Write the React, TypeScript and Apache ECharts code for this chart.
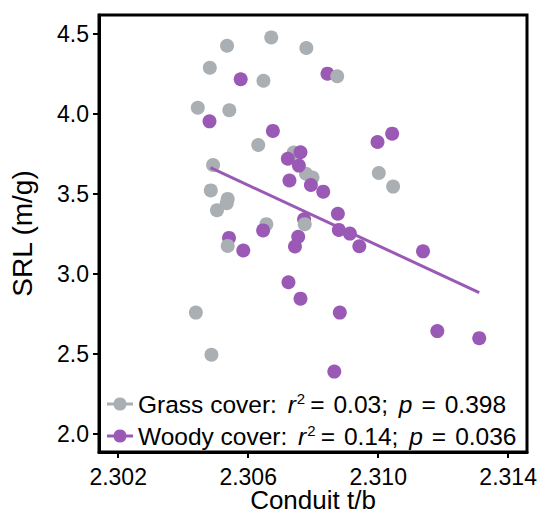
import React, { useEffect, useRef } from "react";
import * as echarts from "echarts";

// Grass cover points (Conduit t/b, SRL m/g)
const grassX = [
  2.30535, 2.30671, 2.30779, 2.30482, 2.30647, 2.30874, 2.30445, 2.30542,
  2.30631, 2.30492, 2.3074, 2.30778, 2.30798, 2.30485, 2.30537, 2.30534,
  2.30504, 2.30774, 2.30656, 2.30537, 2.31002, 2.31046, 2.30439, 2.30487,
];
const grassY = [
  4.427, 4.479, 4.413, 4.289, 4.208, 4.236, 4.039, 4.023,
  3.806, 3.681, 3.759, 3.626, 3.602, 3.522, 3.469, 3.442,
  3.398, 3.311, 3.311, 3.175, 3.631, 3.546, 2.758, 2.494,
];
// indices of grass points drawn above the woody points
const grassAbove = [5, 17, 19];

// Woody cover points
const woodyX = [
  2.30577, 2.30844, 2.30481, 2.30676, 2.30998, 2.31043, 2.30761, 2.30722,
  2.30756, 2.30727, 2.30793, 2.30831, 2.30876, 2.30879, 2.30913, 2.30942,
  2.31138, 2.30772, 2.30646, 2.30754, 2.30744, 2.30541, 2.30585, 2.30724,
  2.30761, 2.30882, 2.31182, 2.31311, 2.30865,
];
const woodyY = [
  4.217, 4.252, 3.954, 3.894, 3.825, 3.877, 3.761, 3.72,
  3.677, 3.584, 3.556, 3.514, 3.376, 3.275, 3.252, 3.173,
  3.141, 3.341, 3.272, 3.232, 3.171, 3.225, 3.146, 2.948,
  2.845, 2.758, 2.642, 2.598, 2.389,
];

// Woody cover regression line end points
const woodyFitX = [2.30484, 2.31311];
const woodyFitY = [3.664, 2.883];

const xTicks = [2.302, 2.306, 2.31, 2.314];
const yTicks = [2.0, 2.5, 3.0, 3.5, 4.0, 4.5];

const groupNames = ["Grass cover", "Woody cover"];
const groupR2 = ["0.03", "0.14"];
const groupP = ["0.398", "0.036"];

const GRAY = "#A9AFB3";
const PURPLE = "#9B59B6";
const FONT = "Liberation Sans, Arial, Helvetica, sans-serif";

const legendIcon =
  "path://M0 5L6.675 5A6.5 6.5 0 0 1 19.325 5L26 5L26 8L19.325 8A6.5 6.5 0 0 1 6.675 8L0 8Z";

export default function App() {
  const ref = useRef<HTMLDivElement>(null);

  useEffect(() => {
    document.body.style.margin = "0";
    if (!ref.current) return;
    const chart = echarts.init(ref.current, null, { renderer: "svg" });

    const grassPts = grassX.map((x, i) => [x, grassY[i]]);
    const woodyPts = woodyX.map((x, i) => [x, woodyY[i]]);
    const grassBelow = grassPts.filter((_, i) => !grassAbove.includes(i));
    const grassTop = grassPts.filter((_, i) => grassAbove.includes(i));
    const fitPts = woodyFitX.map((x, i) => [x, woodyFitY[i]]);

    const base = { fontSize: 24.5, fontFamily: FONT, color: "#000", lineHeight: 26 };

    chart.setOption({
      animation: false,
      grid: {
        left: 99,
        right: 12,
        top: 15,
        bottom: 66,
        show: true,
        borderColor: "#000",
        borderWidth: 3,
        backgroundColor: "transparent",
        containLabel: false,
        outerBoundsMode: "none",
      },
      xAxis: {
        type: "value",
        min: 2.30141,
        max: 2.31458,
        splitLine: { show: false },
        axisLine: { show: true, lineStyle: { color: "#000", width: 3 } },
        axisTick: {
          show: true,
          inside: false,
          length: 6,
          customValues: xTicks,
          lineStyle: { color: "#000", width: 2 },
        },
        axisLabel: {
          customValues: xTicks,
          formatter: (v: number) => v.toFixed(3),
          fontSize: 23,
          fontFamily: FONT,
          color: "#000",
          margin: 13,
        },
        name: "Conduit t/b",
        nameLocation: "middle",
        nameGap: 37,
        nameMoveOverlap: false,
        nameTextStyle: { fontSize: 26, lineHeight: 22, fontFamily: FONT, color: "#000" },
      },
      yAxis: {
        type: "value",
        min: 1.886,
        max: 4.619,
        splitLine: { show: false },
        axisLine: { show: true, lineStyle: { color: "#000", width: 3 } },
        axisTick: {
          show: true,
          inside: false,
          length: 6,
          customValues: yTicks,
          lineStyle: { color: "#000", width: 2 },
        },
        axisLabel: {
          customValues: yTicks,
          formatter: (v: number) => v.toFixed(1),
          fontSize: 23,
          fontFamily: FONT,
          color: "#000",
          margin: 10,
        },
        name: "SRL (m/g)",
        nameLocation: "middle",
        nameGap: 63,
        nameTextStyle: { fontSize: 28, fontFamily: FONT, color: "#000" },
      },
      legend: {
        orient: "vertical",
        left: 107,
        top: 391,
        padding: 0,
        itemWidth: 26,
        itemHeight: 13,
        itemGap: 6,
        icon: legendIcon,
        data: groupNames,
        selectedMode: false,
        formatter: (name: string) => {
          const i = groupNames.indexOf(name);
          return `${name}:{gap| }{i|r}{sup|2}{eq1|=}{t|${groupR2[i]};}{gap| }{i|p}{eq2|=}{t|${groupP[i]}}`;
        },
        textStyle: {
          ...base,
          rich: {
            t: { ...base },
            gap: { ...base, padding: [0, 2, 0, 2] },
            i: { ...base, fontStyle: "italic" },
            sup: { fontSize: 15, fontFamily: FONT, color: "#000", verticalAlign: "top", lineHeight: 15, padding: [0, 2, 0, 1] },
            eq1: { ...base, padding: [0, 9, 0, 3] },
            eq2: { ...base, padding: [0, 9, 0, 9] },
          },
        },
      },
      series: [
        {
          name: "Grass cover",
          type: "scatter",
          data: grassBelow,
          symbolSize: 14,
          itemStyle: { color: GRAY, opacity: 1 },
          z: 2,
        },
        {
          name: "Woody cover",
          type: "scatter",
          data: woodyPts,
          symbolSize: 14,
          itemStyle: { color: PURPLE, opacity: 1 },
          z: 3,
        },
        {
          name: "Grass cover",
          type: "scatter",
          data: grassTop,
          symbolSize: 14,
          itemStyle: { color: GRAY, opacity: 1 },
          z: 4,
        },
        {
          name: "Woody fit",
          type: "line",
          data: fitPts,
          symbol: "none",
          lineStyle: { color: PURPLE, width: 3 },
          z: 5,
        },
      ],
    });

    return () => chart.dispose();
  }, []);

  return <div ref={ref} style={{ width: 539, height: 518 }} />;
}
